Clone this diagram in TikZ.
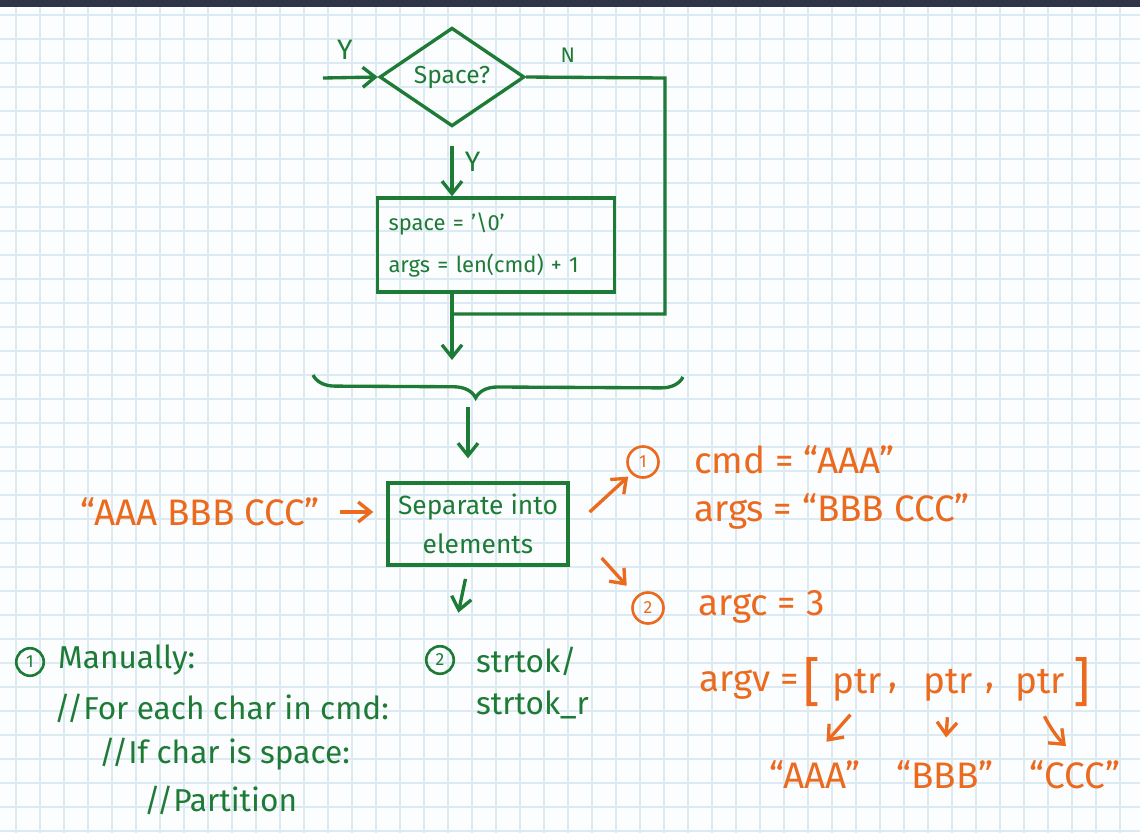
\documentclass[tikz,border=0pt]{standalone}
\usepackage{fontspec}
\setmainfont{Fira Sans}
\usetikzlibrary{positioning, arrows.meta, shapes.geometric, decorations.pathreplacing}

\definecolor{pen}{HTML}{1E7B36}
\definecolor{marker}{HTML}{EB6A1E}
\definecolor{gridline}{HTML}{DCEBF2}
\definecolor{paper}{HTML}{FBFDFE}
\definecolor{topbar}{HTML}{2E3548}

\begin{document}
\begin{tikzpicture}[
            x=0.02cm, y=-0.02cm,
            flow/.style={draw=pen, line width=1.9pt},
            flowarrow/.style={-{Straight Barb[length=2.5mm, width=4mm]}, pen, line width=1.9pt},
            notearrow/.style={-{Straight Barb[length=2.5mm, width=4mm]}, marker, line width=1.9pt},
            decision/.style={diamond, flow, text=pen, minimum width=2.9cm, minimum height=1.84cm, inner sep=0pt, font=\fontsize{14}{16}\selectfont},
            box/.style={rectangle, flow, text=pen},
            penText/.style={text=pen, font=\fontsize{18}{24}\selectfont},
            markText/.style={text=marker, font=\fontsize{21}{25}\selectfont},
            num/.style={circle, draw, line width=1.5pt, inner sep=1pt, minimum size=0.55cm, font=\fontsize{10}{12}\selectfont}
        ]
            % paper
            \useasboundingbox (0,0) rectangle (1140,833);
            \fill[paper] (0,0) rectangle (1140,833);
            \foreach \gx in {16,40,...,1140} \draw[gridline, line width=0.9pt] (\gx,7) -- (\gx,833);
            \foreach \gy in {15,39,...,833} \draw[gridline, line width=0.9pt] (0,\gy) -- (1140,\gy);
            \fill[topbar] (0,0) rectangle (1140,7);

            % loop over the command
            \node[decision] (space) at (452,77) {Space?};
            \coordinate (yin) at (323,78);
            \coordinate (nturn) at (665,78);
            \coordinate (nback) at (665,314);
            \node[box, minimum width=4.74cm, minimum height=1.88cm, text width=4.3cm, align=left, font=\fontsize{12.5}{24}\selectfont] (setbox) at (496,245) {space = '\textbackslash 0'\\args = len(cmd) + 1};
            \coordinate (merge) at (space.south |- nback);
            \coordinate (bracetop) at (452,360);
            \coordinate (braceL) at (313,375);
            \coordinate (braceR) at (683,377);
            \coordinate (bracetip) at (468,397);
            \draw[flowarrow] (yin) -- node[pos=0.4, above=6pt, text=pen, font=\fontsize{16}{18}\selectfont] (yleft) {Y} (space.west);
            \draw[flow] (space.east) -- node[pos=0.3, above=4pt, text=pen, font=\fontsize{12}{14}\selectfont] (nlabel) {N} (nturn) -- (nback) -- (merge);
            \draw[flowarrow, shorten <=0.36cm] (space.south) -- node[right=3pt, text=pen, font=\fontsize{16}{18}\selectfont] (ydown) {Y} (space.south |- setbox.north);
            \draw[flowarrow] (space.south |- setbox.south) -- (bracetop);
            \draw[flow, decorate, decoration={brace, mirror, amplitude=0.44cm, aspect=0.44}] (braceL) -- (braceR);

            % splitting
            \node[box, minimum width=3.6cm, minimum height=1.64cm, align=center, font=\fontsize{15}{22}\selectfont] (sepbox) at (478,524) {Separate into\\elements};
            \draw[flowarrow, shorten <=0.2cm, shorten >=0.46cm] (bracetip) -- (bracetip |- sepbox.north);
            \node[markText] (input) at (200,512) {“AAA BBB CCC”};
            \draw[notearrow, shorten <=0.28cm, shorten >=0.26cm] (input.east) -- (input.east -| sepbox.west);

            % results
            \node[num, marker, minimum size=0.62cm] (one) at (643,462) {1};
            \node[markText, anchor=west] (cmd) at (688,460) {cmd = “AAA”};
            \node[markText, anchor=west] (args) at (688,512) {args = “BBB CCC”};
            \draw[notearrow, shorten >=0.08cm] ([shift={(20,-12)}]sepbox.east) -- (one.south west);
            \node[num, marker, minimum size=0.62cm] (two) at (648,608) {2};
            \node[markText, anchor=west] (argc) at (692,607) {argc = 3};
            \draw[notearrow, shorten >=0.28cm] ([shift={(32,34)}]sepbox.east) -- (two.north west);

            \node[markText, anchor=west] (argv) at (693,685) {argv =};
            \node[markText, font=\fontsize{30}{30}\selectfont] (lbr) at (812,682) {[};
            \node[markText] (p1) at (857,685) {ptr};
            \node[markText] (c1) at (893,688) {,};
            \node[markText] (p2) at (948,685) {ptr};
            \node[markText] (c2) at (990,688) {,};
            \node[markText] (p3) at (1040,685) {ptr};
            \node[markText, font=\fontsize{30}{30}\selectfont] (rbr) at (1082,682) {]};
            \node[markText] (s1) at (815,775) {“AAA”};
            \node[markText] (s2) at (945,775) {“BBB”};
            \node[markText] (s3) at (1075,775) {“CCC”};
            \draw[notearrow, shorten <=0.2cm, shorten >=0.35cm] (p1.south) -- (s1.north);
            \draw[notearrow, shorten <=0.2cm, shorten >=0.35cm] (p2.south) -- (s2.north);
            \draw[notearrow, shorten <=0.2cm, shorten >=0.25cm] (p3.south) to[bend right=10] (s3.north);

            % ways to split
            \node[num, pen] (three) at (30,662) {1};
            \node[penText, anchor=west] (manual) at (52,660) {Manually:};
            \node[penText, anchor=west] (loopln) at (48,708) {//For each char in cmd:};
            \node[penText, anchor=west] (ifln) at (93,754) {//If char is space:};
            \node[penText, anchor=west] (partln) at (138,800) {//Partition};
            \node[num, pen] (four) at (440,660) {2};
            \node[penText, anchor=west, align=left] (strtok) at (470,683) {strtok/\\strtok\_r};
            \draw[flowarrow, shorten <=0.25cm, shorten >=0.75cm] ([xshift=-0.2cm]sepbox.south) -- (four.north east);
        \end{tikzpicture}
\end{document}
